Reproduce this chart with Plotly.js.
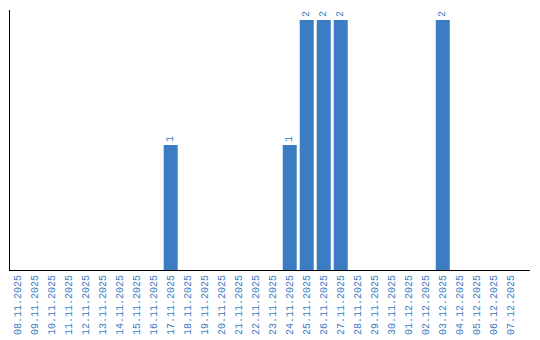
<!DOCTYPE html>
<html><head><meta charset="utf-8">
<script src="https://cdn.plot.ly/plotly-3.0.1.min.js"></script>
<style>html,body{margin:0;padding:0;background:#fff}#c{width:540px;height:340px}</style>
</head><body><div id="c"></div>
<script>
const dates = ["08.11.2025","09.11.2025","10.11.2025","11.11.2025","12.11.2025","13.11.2025","14.11.2025","15.11.2025","16.11.2025","17.11.2025","18.11.2025","19.11.2025","20.11.2025","21.11.2025","22.11.2025","23.11.2025","24.11.2025","25.11.2025","26.11.2025","27.11.2025","28.11.2025","29.11.2025","30.11.2025","01.12.2025","02.12.2025","03.12.2025","04.12.2025","05.12.2025","06.12.2025","07.12.2025"];
const counts = [0,0,0,0,0,0,0,0,0,1,0,0,0,0,0,0,1,2,2,2,0,0,0,0,0,2,0,0,0,0];
const labels = counts.map(v => v > 0 ? String(v) : "");
const blue = "#3b7cc2";
Plotly.newPlot("c", [{
  type: "bar", x: dates, y: counts, text: labels,
  textposition: "outside", textangle: -90, cliponaxis: false,
  textfont: {family: "Liberation Mono", size: 10, color: blue},
  marker: {color: blue}, hoverinfo: "none"
}], {
  width: 540, height: 340,
  margin: {l: 10, r: 10, t: 10, b: 70},
  paper_bgcolor: "#fff", plot_bgcolor: "#fff",
  bargap: 0.176, showlegend: false,
  xaxis: {type: "category", range: [-0.45, 30.13], tickangle: -90, showline: true, linecolor: "#000", linewidth: 1,
    ticks: "", showgrid: false, tickfont: {family: "Liberation Mono", size: 10, color: blue}},
  yaxis: {range: [0, 2.08], showline: true, linecolor: "#000", linewidth: 1,
    showticklabels: false, ticks: "", showgrid: false, zeroline: false}
}, {displayModeBar: false, staticPlot: true});
</script></body></html>
